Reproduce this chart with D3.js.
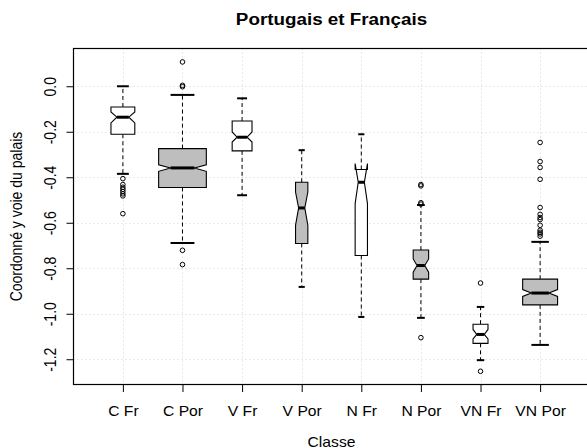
<!DOCTYPE html>
<html>
<head>
<meta charset="utf-8">
<script src="https://cdn.jsdelivr.net/npm/d3@7"></script>
<style>
  html, body { margin: 0; padding: 0; background: #fff; }
  svg { display: block; }
  text { font-family: "Liberation Sans", Arial, Helvetica, sans-serif; fill: #000; }
</style>
</head>
<body>
<svg id="chart" width="587" height="448"></svg>
<script>
// ---------- data ----------
const categories = ["C Fr", "C Por", "V Fr", "V Por", "N Fr", "N Por", "VN Fr", "VN Por"];
const lowerWhisker = [-0.385, -0.689, -0.479, -0.882, -1.014, -1.018, -1.204, -1.137];
const lowerHinge   = [-0.211, -0.445, -0.284, -0.691, -0.744, -0.848, -1.130, -0.961];
const medians      = [-0.136, -0.359, -0.224, -0.535, -0.422, -0.788, -1.091, -0.909];
const upperHinge   = [-0.091, -0.274, -0.153, -0.422, -0.366, -0.720, -1.046, -0.848];
const upperWhisker = [ 0.000, -0.038, -0.053, -0.281, -0.211, -0.522, -0.970, -0.684];
const notchLow     = [-0.161, -0.374, -0.245, -0.611, -0.516, -0.817, -1.111, -0.924];
const notchHigh    = [-0.113, -0.345, -0.201, -0.465, -0.340, -0.759, -1.069, -0.894];
const groupSizes   = [150, 600, 104, 40, 40, 63, 59, 322];
const outliers = [
  [-0.406, -0.432, -0.444, -0.453, -0.463, -0.473, -0.482, -0.560],
  [0.107, 0.004, -0.002, -0.721, -0.784],
  [],
  [],
  [],
  [-0.432, -0.438, -0.512, -0.518, -1.105],
  [-0.865, -1.253],
  [-0.247, -0.331, -0.357, -0.409, -0.533, -0.563, -0.577, -0.586, -0.611, -0.633, -0.642, -0.649, -0.659]
];
const yTicks = [0, -0.2, -0.4, -0.6, -0.8, -1.0, -1.2];
const title = "Portugais et Français";
const xTitle = "Classe";
const yTitle = "Coordonné y voie du palais";

// ---------- layout ----------
const svg = d3.select("#chart");
const plot = { left: 73.5, top: 48.5, right: 589.5, bottom: 384.5 };
const SX = 1.12;          // horizontal stretch of text in the reference
const fontSize = 14;

const x = d3.scaleLinear().domain([0.18, 8.82]).range([74, 589]);
const y = d3.scaleLinear().domain([-1.311, 0.166]).range([plot.bottom, plot.top]);
const step = x(2) - x(1);
const maxN = d3.max(groupSizes);
const fillFor = c => c.includes("Por") ? "#bebebe" : "#ffffff";

// grid
const grid = svg.append("g").attr("stroke", "#d3d3d3").attr("stroke-dasharray", "1,3").attr("stroke-width", 1);
grid.selectAll("line.h").data(yTicks).join("line")
  .attr("x1", plot.left).attr("x2", plot.right)
  .attr("y1", d => Math.round(y(d)) + 0.5).attr("y2", d => Math.round(y(d)) + 0.5);
grid.selectAll("line.v").data(categories).join("line")
  .attr("y1", plot.top).attr("y2", plot.bottom)
  .attr("x1", (d, i) => Math.round(x(i + 1)) + 0.5).attr("x2", (d, i) => Math.round(x(i + 1)) + 0.5);

// boxes
const boxes = svg.append("g");
categories.forEach((c, i) => {
  const cx = x(i + 1);
  const w = 0.4 * step * Math.sqrt(groupSizes[i] / maxN);
  const g = boxes.append("g");
  const dash = "4,3";
  // whiskers
  g.append("line").attr("x1", cx).attr("x2", cx)
    .attr("y1", y(upperHinge[i])).attr("y2", y(upperWhisker[i]))
    .attr("stroke", "#000").attr("stroke-dasharray", dash);
  g.append("line").attr("x1", cx).attr("x2", cx)
    .attr("y1", y(lowerHinge[i])).attr("y2", y(lowerWhisker[i]))
    .attr("stroke", "#000").attr("stroke-dasharray", dash);
  // staples
  [upperWhisker[i], lowerWhisker[i]].forEach(v => {
    g.append("line").attr("x1", cx - w * 0.5).attr("x2", cx + w * 0.5)
      .attr("y1", y(v)).attr("y2", y(v))
      .attr("stroke", "#000").attr("stroke-width", 2);
  });
  // notched box (R bxp polygon)
  const xs = [cx - w, cx + w, cx + w, cx + w / 2, cx + w, cx + w, cx - w, cx - w, cx - w / 2, cx - w];
  const ys = [lowerHinge[i], lowerHinge[i], notchLow[i], medians[i], notchHigh[i], upperHinge[i], upperHinge[i], notchHigh[i], medians[i], notchLow[i]];
  const pts = xs.map((xx, k) => [xx, y(ys[k])]);
  g.append("path").attr("d", d3.line()(pts) + "Z")
    .attr("fill", fillFor(c)).attr("stroke", "#000").attr("stroke-width", 1.1)
    .attr("stroke-linejoin", "miter");
  // median
  g.append("line").attr("x1", cx - w / 2).attr("x2", cx + w / 2)
    .attr("y1", y(medians[i])).attr("y2", y(medians[i]))
    .attr("stroke", "#000").attr("stroke-width", 3);
  // outliers
  g.selectAll("circle").data(outliers[i]).join("circle")
    .attr("cx", cx).attr("cy", d => y(d)).attr("r", 2.3)
    .attr("fill", "none").attr("stroke", "#000").attr("stroke-width", 1);
});

// frame
svg.append("rect").attr("x", plot.left).attr("y", plot.top)
  .attr("width", plot.right - plot.left).attr("height", plot.bottom - plot.top)
  .attr("fill", "none").attr("stroke", "#000").attr("stroke-width", 1.2);

// y axis (ticks + rotated labels)
const yAxis = d3.axisLeft(y).tickValues(yTicks).tickSize(7).tickFormat(d3.format(".1f"));
const yg = svg.append("g").attr("transform", `translate(${plot.left},0)`).call(yAxis);
yg.select(".domain").remove();
yg.selectAll(".tick line").attr("stroke", "#000");
yg.selectAll(".tick text").remove();
yg.selectAll(".tick").append("text")
  .attr("transform", `translate(${56 - plot.left},0) scale(${SX},1) rotate(-90)`)
  .attr("text-anchor", "middle").attr("font-size", fontSize)
  .text(d => d3.format(".1f")(d).replace("−", "-"));

// x axis
const xAxis = d3.axisBottom(x).tickValues(d3.range(1, categories.length + 1)).tickSize(7.5).tickFormat(d => categories[d - 1]);
const xg = svg.append("g").attr("transform", `translate(0,${plot.bottom})`).call(xAxis);
xg.select(".domain").remove();
xg.selectAll(".tick line").attr("stroke", "#000");
xg.selectAll(".tick text").remove();
xg.selectAll(".tick").append("text")
  .attr("transform", `translate(0,${416 - plot.bottom}) scale(${SX},1)`)
  .attr("text-anchor", "middle").attr("font-size", fontSize)
  .text(d => categories[d - 1]);

// titles
svg.append("text").attr("transform", `translate(${(plot.left + plot.right) / 2},24.5) scale(${SX},1)`)
  .attr("text-anchor", "middle").attr("font-size", fontSize * 1.2).attr("font-weight", "bold").text(title);
svg.append("text").attr("transform", `translate(${(plot.left + plot.right) / 2},446.5) scale(${SX},1)`)
  .attr("text-anchor", "middle").attr("font-size", fontSize).text(xTitle);
svg.append("text").attr("transform", `translate(22,${(plot.top + plot.bottom) / 2}) scale(${SX},1) rotate(-90)`)
  .attr("text-anchor", "middle").attr("font-size", fontSize).text(yTitle);
</script>
</body>
</html>
